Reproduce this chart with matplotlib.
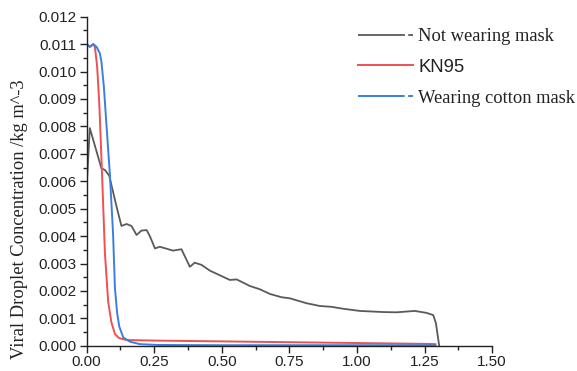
import matplotlib
matplotlib.use('Agg')
import matplotlib.pyplot as plt
from matplotlib.lines import Line2D
from matplotlib.ticker import MultipleLocator
import numpy as np

# Not wearing mask (gray)
x_none = [0.0, 0.012, 0.055, 0.068, 0.084, 0.111, 0.129, 0.148, 0.166, 0.185, 0.203,
          0.222, 0.234, 0.253, 0.271, 0.320, 0.351, 0.382, 0.400, 0.425, 0.456, 0.530,
          0.555, 0.604, 0.641, 0.678, 0.721, 0.752, 0.814, 0.863, 0.906, 0.949, 1.011,
          1.097, 1.146, 1.214, 1.257, 1.282, 1.292, 1.304]
y_none = [0.0057, 0.00794, 0.00647, 0.00641, 0.0062, 0.00507, 0.00437, 0.00444, 0.00437,
          0.00404, 0.0042, 0.00422, 0.0040, 0.00355, 0.00361, 0.00347, 0.00352, 0.00288,
          0.00303, 0.00295, 0.00274, 0.0024, 0.00242, 0.00218, 0.00206, 0.00189, 0.00177,
          0.00173, 0.00155, 0.00145, 0.00142, 0.00135, 0.00127, 0.00123, 0.00122,
          0.00127, 0.0012, 0.00112, 0.00082, 0.0]

# KN95 (red)
x_kn95 = [0.0, 0.012, 0.025, 0.031, 0.039, 0.047, 0.052, 0.059, 0.068, 0.080, 0.092,
          0.105, 0.120, 0.148, 0.25, 0.5, 0.75, 1.0, 1.25, 1.29]
y_kn95 = [0.01101, 0.0109, 0.0110, 0.01089, 0.0102, 0.00885, 0.00763, 0.0058, 0.00337,
          0.0016, 0.00085, 0.00043, 0.00028, 0.00021, 0.00019, 0.00016, 0.00013, 0.0001,
          0.00007, 0.00006]

# Wearing cotton mask (blue)
x_cotton = [0.0, 0.012, 0.025, 0.037, 0.049, 0.055, 0.064, 0.074, 0.086, 0.098, 0.105,
            0.113, 0.121, 0.136, 0.16, 0.197, 0.26, 0.5, 0.75, 1.0, 1.29]
y_cotton = [0.01101, 0.0109, 0.0110, 0.0109, 0.01067, 0.01036, 0.00945, 0.008, 0.00629,
            0.0041, 0.0021, 0.0012, 0.0007, 0.0003, 0.00015, 0.00006, 0.00003, 0.00002,
            0.00002, 0.00002, 0.00002]

labels = ['Not wearing mask', 'KN95', 'Wearing cotton mask']
colors = ['#5a5a5a', '#f05050', '#3c7fe0']

fig = plt.figure(figsize=(5.77, 3.71), dpi=100)
ax = fig.add_axes([0.150, 0.068, 0.703, 0.887])

ax.plot(x_none, y_none, color=colors[0], lw=1.3)
ax.plot(x_kn95, y_kn95, color=colors[1], lw=1.4)
ax.plot(x_cotton, y_cotton, color=colors[2], lw=1.4)

ax.set_xlim(0, 1.5)
ax.set_ylim(0, 0.012)
ax.xaxis.set_major_locator(MultipleLocator(0.25))
ax.xaxis.set_minor_locator(MultipleLocator(0.125))
ax.yaxis.set_major_locator(MultipleLocator(0.001))
ax.yaxis.set_minor_locator(MultipleLocator(0.0005))
ax.xaxis.set_major_formatter(matplotlib.ticker.FormatStrFormatter('%.2f'))
ax.yaxis.set_major_formatter(matplotlib.ticker.FormatStrFormatter('%.3f'))

for s in ['top', 'right']:
    ax.spines[s].set_visible(False)
for s in ['left', 'bottom']:
    ax.spines[s].set_color('#222222')
    ax.spines[s].set_linewidth(1.0)

ax.tick_params(which='major', direction='out', length=5, width=1.0, color='#222222',
               labelsize=11, labelcolor='#222222', pad=2)
ax.tick_params(which='minor', direction='out', length=3, width=1.0, color='#222222')
for lab in ax.get_xticklabels() + ax.get_yticklabels():
    lab.set_family('Liberation Sans')

fig.text(20 / 577, (371 - 219) / 371, 'Viral Droplet Concentration /kg m^-3',
         rotation=90, ha='center', va='center', family='Liberation Serif',
         fontsize=13.3, color='#222222')

# legend handles with the small dash at the end of the line
handles = [
    Line2D([], [], color=colors[0], lw=1.3, dashes=(26, 1.8, 4.2, 10)),
    Line2D([], [], color=colors[1], lw=1.4),
    Line2D([], [], color=colors[2], lw=1.4, dashes=(24, 1.8, 4, 10)),
]
leg = ax.legend(handles, labels, loc='upper left', bbox_to_anchor=(358 / 577, 1 - 28 / 371),
                bbox_transform=fig.transFigure, frameon=False, fontsize=13.3,
                handlelength=3.0, handletextpad=0.25, labelspacing=0.75,
                borderpad=0, borderaxespad=0)
fams = ['Liberation Serif', 'Liberation Sans', 'Liberation Serif']
for t, f in zip(leg.get_texts(), fams):
    t.set_family(f)
    t.set_color('#222222')

fig.savefig('out.png', dpi=100)
